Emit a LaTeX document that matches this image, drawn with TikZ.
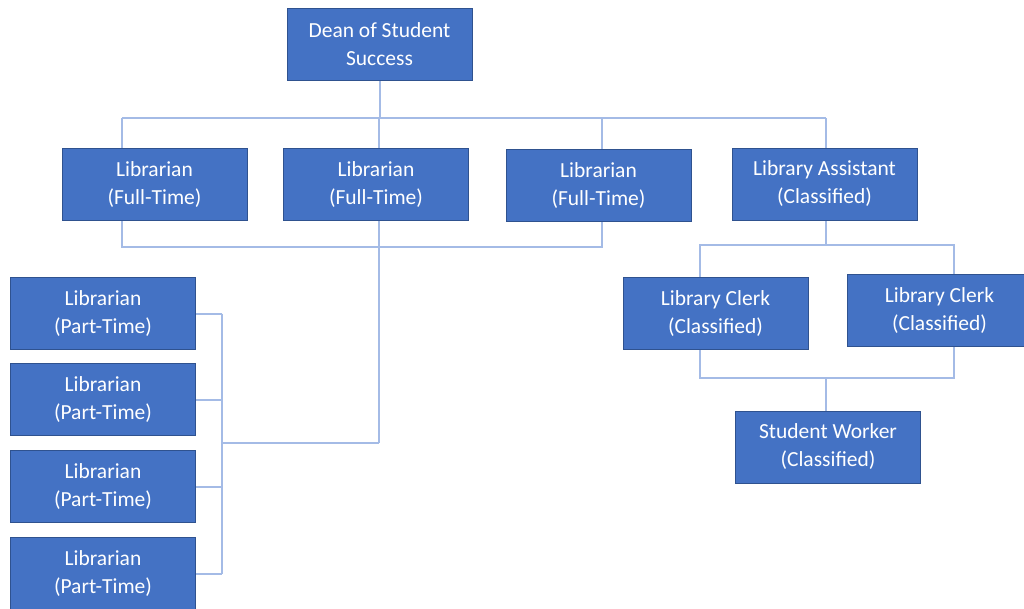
\documentclass[tikz,border=0pt]{standalone}
\usepackage{fontspec}
\setmainfont{Carlito}
\usetikzlibrary{backgrounds}
\definecolor{boxfill}{HTML}{4472C4}
\definecolor{boxline}{HTML}{2F528F}
\definecolor{connline}{HTML}{A4BBE6}
\begin{document}
\begin{tikzpicture}[x=1pt,y=-1pt,
  orgbox/.style={draw=boxline,line width=1pt,fill=boxfill,text=white,
    minimum width=185pt,minimum height=72pt,inner sep=0pt,align=center,
    font=\fontsize{21.5}{28}\selectfont},
  conn/.style={draw=connline,line width=2pt}]
\useasboundingbox (0,0) rectangle (1024,608);
\node[orgbox] (dean) at (379.5,44) {Dean of Student\\Success};
\node[orgbox] (ft1) at (154.5,184.5) {Librarian\\(Full-Time)};
\node[orgbox] (ft2) at (376,184.5) {Librarian\\(Full-Time)};
\node[orgbox] (ft3) at (598.5,185.5) {Librarian\\(Full-Time)};
\node[orgbox] (la) at (824.5,184) {Library Assistant\\(Classified)};
\node[orgbox] (c1) at (715.5,313.5) {Library Clerk\\(Classified)};
\node[orgbox] (c2) at (939.5,310.5) {Library Clerk\\(Classified)};
\node[orgbox] (sw) at (828,447) {Student Worker\\(Classified)};
\node[orgbox] (pt1) at (103,313.5) {Librarian\\(Part-Time)};
\node[orgbox] (pt2) at (103,399.5) {Librarian\\(Part-Time)};
\node[orgbox] (pt3) at (103,486.5) {Librarian\\(Part-Time)};
\node[orgbox] (pt4) at (103,573.5) {Librarian\\(Part-Time)};
\coordinate (tA) at (122,118);
\coordinate (tB) at (379,118);
\coordinate (tC) at (602,118);
\coordinate (tD) at (826,118);
\coordinate (bA) at (122,247);
\coordinate (bC) at (602,247);
\coordinate (mB) at (379,443);
\coordinate (mP) at (222,443);
\coordinate (rA) at (700,245);
\coordinate (rD) at (826,245);
\coordinate (rE) at (954,245);
\coordinate (sA) at (700,378);
\coordinate (sD) at (826,378);
\coordinate (sE) at (954,378);
\begin{scope}[on background layer]
\fill[white] (0,0) rectangle (1024,608);
\draw[conn] (dean.south) -- (dean.south |- tB);
\draw[conn] (tA) -- (tD);
\draw[conn] (tA) -- (tA |- ft1.north);
\draw[conn] (tB) -- (mB);
\draw[conn] (tC) -- (tC |- ft3.north);
\draw[conn] (tD) -- (tD |- la.north);
\draw[conn] (bA |- ft1.south) -- (bA) -- (bC) -- (bC |- ft3.south);
\draw[conn] (mB) -- (mP);
\draw[conn] (pt1.east -| mP) -- (pt4.east -| mP);
\draw[conn] (pt1.east) -- (pt1.east -| mP);
\draw[conn] (pt2.east) -- (pt2.east -| mP);
\draw[conn] (pt3.east) -- (pt3.east -| mP);
\draw[conn] (pt4.east) -- (pt4.east -| mP);
\draw[conn] (rD |- la.south) -- (rD);
\draw[conn] (rA |- c1.north) -- (rA) -- (rE) -- (rE |- c2.north);
\draw[conn] (sA |- c1.south) -- (sA) -- (sE) -- (sE |- c2.south);
\draw[conn] (sD) -- (sD |- sw.north);
\end{scope}
\end{tikzpicture}
\end{document}
